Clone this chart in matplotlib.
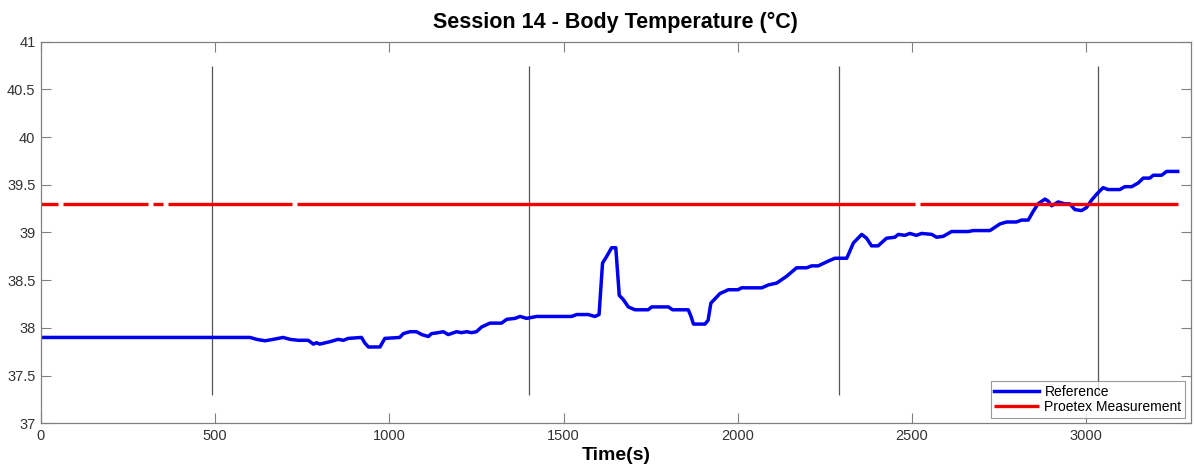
import numpy as np
import matplotlib.pyplot as plt

# reference body temperature trace (time in s, temperature in degC)
ref_time = [0, 600, 619, 643, 667, 695, 715, 739, 767, 782, 791, 800, 829, 853,
            868, 882, 920, 930, 940, 973, 987, 1030, 1040, 1059, 1078, 1093,
            1112, 1121, 1140, 1155, 1169, 1193, 1207, 1222, 1236, 1250, 1265,
            1289, 1322, 1337, 1361, 1375, 1394, 1423, 1523, 1538, 1571, 1590,
            1602, 1612, 1624, 1638, 1650, 1660, 1671, 1686, 1705, 1743, 1753,
            1801, 1813, 1858, 1866, 1873, 1906, 1915, 1923, 1949, 1973, 2001,
            2011, 2069, 2088, 2112, 2140, 2169, 2198, 2212, 2231, 2260, 2279,
            2313, 2332, 2356, 2370, 2384, 2403, 2427, 2451, 2461, 2480, 2494,
            2513, 2528, 2557, 2571, 2590, 2614, 2662, 2676, 2724, 2753, 2772,
            2800, 2815, 2834, 2848, 2862, 2882, 2891, 2901, 2920, 2939, 2953,
            2968, 2987, 3001, 3016, 3030, 3049, 3063, 3097, 3111, 3131, 3150,
            3164, 3183, 3193, 3217, 3231, 3263]
ref_temp = [37.90, 37.90, 37.88, 37.865, 37.88, 37.90, 37.88, 37.87, 37.87, 37.83,
            37.845, 37.83, 37.855, 37.88, 37.87, 37.89, 37.90, 37.84, 37.80, 37.80,
            37.89, 37.90, 37.94, 37.96, 37.96, 37.93, 37.91, 37.94, 37.95, 37.96,
            37.93, 37.96, 37.95, 37.96, 37.95, 37.96, 38.01, 38.05, 38.05, 38.09,
            38.10, 38.12, 38.10, 38.12, 38.12, 38.14, 38.14, 38.12, 38.14, 38.68,
            38.75, 38.84, 38.84, 38.34, 38.30, 38.22, 38.19, 38.19, 38.22, 38.22,
            38.19, 38.19, 38.12, 38.04, 38.04, 38.08, 38.26, 38.36, 38.40, 38.40,
            38.42, 38.42, 38.45, 38.47, 38.54, 38.63, 38.63, 38.65, 38.65, 38.70,
            38.73, 38.73, 38.89, 38.98, 38.94, 38.86, 38.86, 38.94, 38.95, 38.98,
            38.97, 38.99, 38.97, 38.99, 38.98, 38.95, 38.96, 39.01, 39.01, 39.02,
            39.02, 39.09, 39.11, 39.11, 39.13, 39.13, 39.22, 39.30, 39.35, 39.33,
            39.28, 39.32, 39.30, 39.30, 39.24, 39.23, 39.26, 39.34, 39.40, 39.47,
            39.45, 39.45, 39.48, 39.48, 39.52, 39.57, 39.57, 39.60, 39.60, 39.64,
            39.64]

# proetex measurement (constant, with a few dropouts)
proetex_time = [0, 50, np.nan, 62, 308, np.nan, 321, 351, np.nan, 364, 721,
                np.nan, 734, 2510, np.nan, 2524, 3263]
proetex_temp = [39.3, 39.3, np.nan, 39.3, 39.3, np.nan, 39.3, 39.3, np.nan,
                39.3, 39.3, np.nan, 39.3, 39.3, np.nan, 39.3, 39.3]

# phase boundaries
event_times = [492, 1402, 2292, 3033]
event_low, event_high = 37.3, 40.75

plt.rcParams['font.family'] = ['Liberation Sans', 'DejaVu Sans']

fig = plt.figure(figsize=(11.95, 4.66), dpi=100)
ax = fig.add_axes([0.0343, 0.0916, 0.962, 0.819])

ax.vlines(event_times, event_low, event_high, color='#555555', linewidth=0.9)
ax.plot(ref_time, ref_temp, color='#0000f0', linewidth=2.5, label='Reference')
ax.plot(proetex_time, proetex_temp, color='#f00000', linewidth=2.4,
        solid_capstyle='butt', label='Proetex Measurement')

ax.set_xlim(0, 3300)
ax.set_ylim(37, 41)
ax.set_xticks(np.arange(0, 3001, 500))
ax.set_yticks(np.arange(37, 41.01, 0.5))
ax.set_yticklabels(['37', '37.5', '38', '38.5', '39', '39.5', '40', '40.5', '41'])

ax.tick_params(direction='in', length=7, width=0.8, top=True, right=True,
               labelsize=10.5, labelcolor='#333333', color='#808080', pad=4)
for s in ax.spines.values():
    s.set_color('#808080')
    s.set_linewidth(0.9)

ax.set_title('Session 14 - Body Temperature (°C)', fontsize=15.5,
             fontweight='bold', pad=10)
ax.set_xlabel('Time(s)', fontsize=14, fontweight='bold', labelpad=3)

leg = ax.legend(loc='lower right', fontsize=10, frameon=True, fancybox=False,
                borderpad=0.25, handlelength=3.2, handletextpad=0.4,
                labelspacing=0.1, borderaxespad=0.4)
leg.get_frame().set_edgecolor('#808080')
leg.get_frame().set_linewidth(0.8)

fig.savefig('out.png', dpi=100)
